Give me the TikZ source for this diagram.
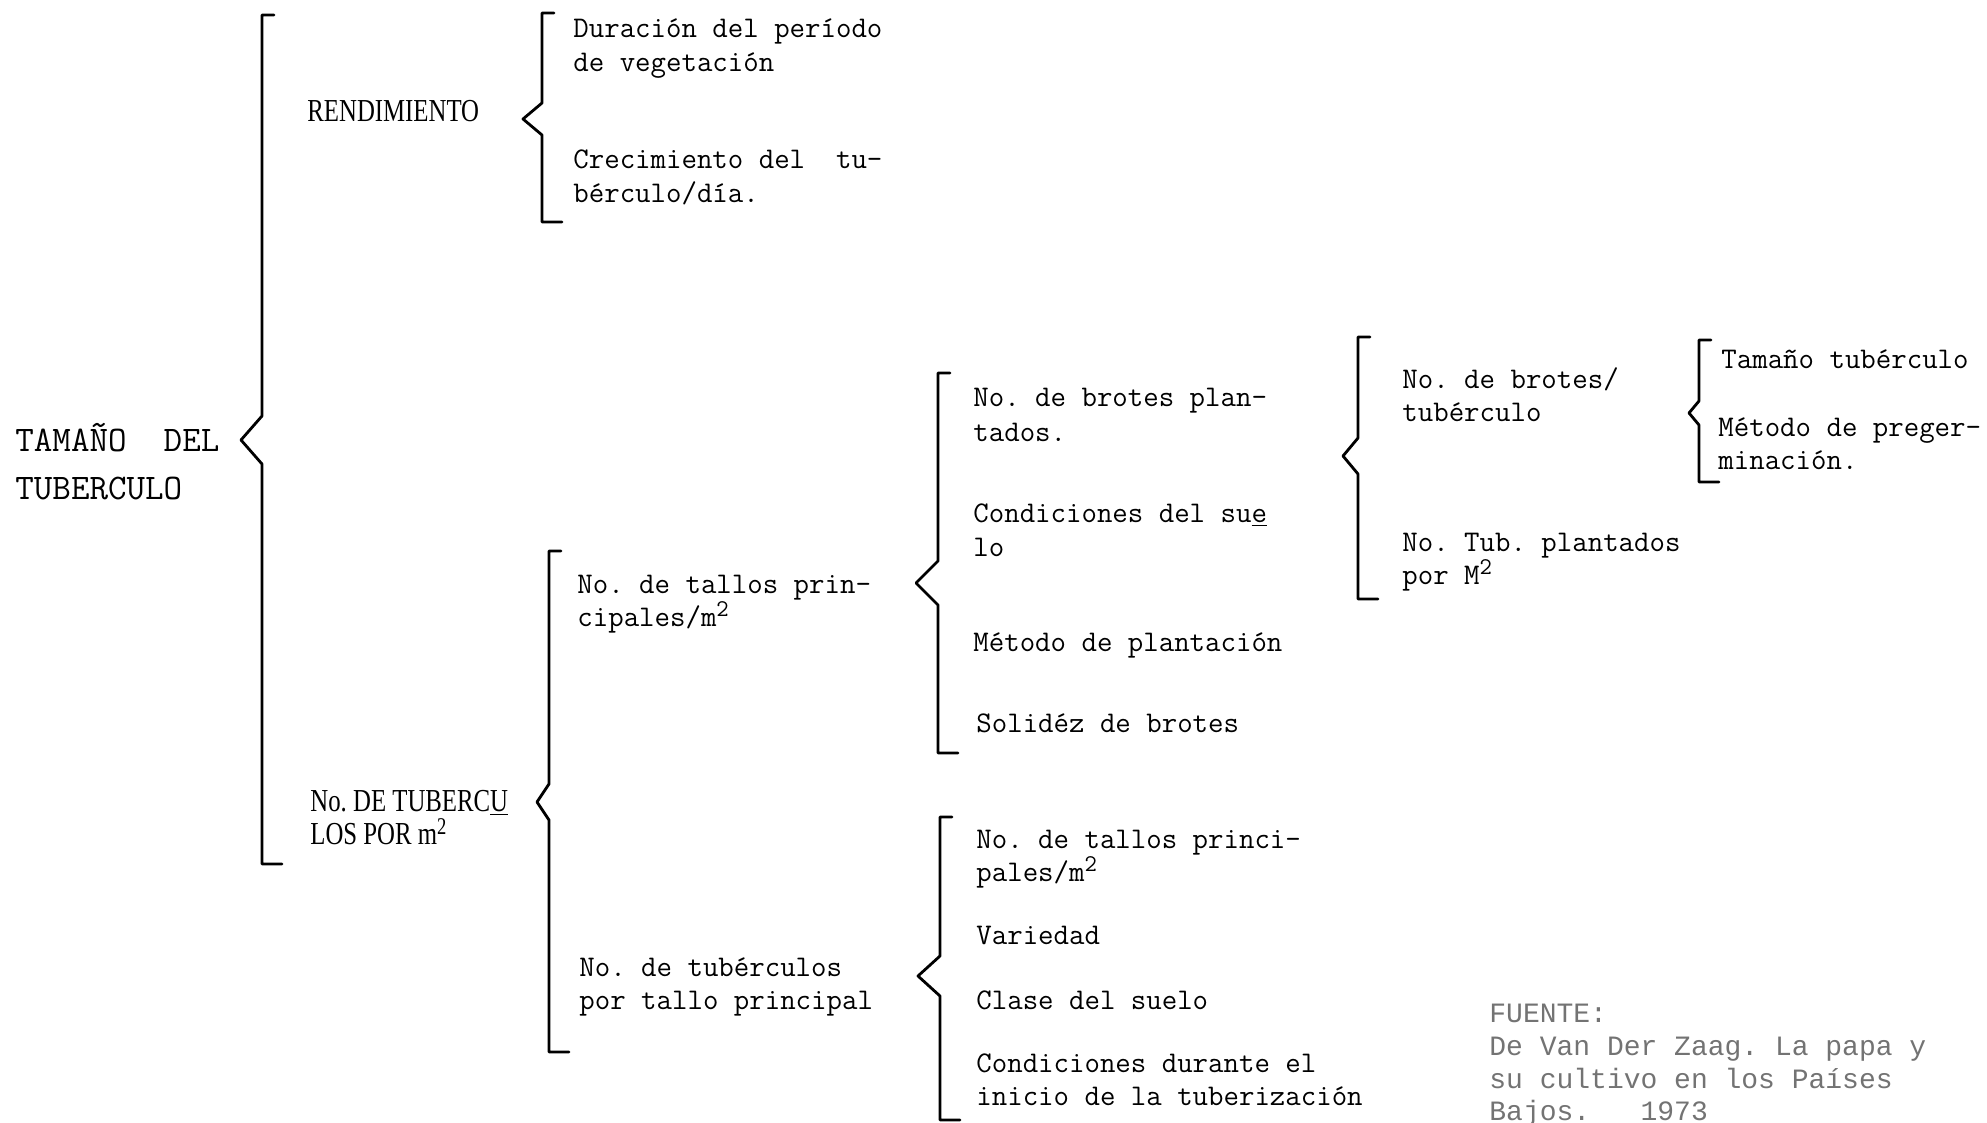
\documentclass[tikz,border=0pt]{standalone}
\usepackage{fontspec}
\newfontfamily\condfont[FakeStretch=0.775]{Liberation Serif}
\newfontfamily\courfont{Liberation Mono}
\newcommand\supii[1][5pt]{\raisebox{#1}{\fontsize{12}{12}\selectfont 2}}
\newcommand\brkt[6]{\draw[brk] (#1+12,#2) -- (#1,#2) -- (#1,#3-#6) -- (#1-#5,#3) -- (#1,#3+#6) -- (#1,#4) -- (#1+20,#4);}
\frenchspacing
\begin{document}
\begin{tikzpicture}[x=0.5pt,y=-0.5pt,
  txt/.style={anchor=base west,inner sep=0pt,font=\fontsize{15}{17}\selectfont\ttfamily\frenchspacing},
  tam/.style={anchor=base west,inner sep=0pt,font=\fontsize{18}{20}\selectfont\ttfamily},
  cond/.style={anchor=base west,inner sep=0pt,font=\fontsize{16}{18}\selectfont\condfont\frenchspacing},
  src/.style={anchor=base west,inner sep=0pt,text=black!55,font=\fontsize{14}{16}\selectfont\courfont\frenchspacing},
  brk/.style={line width=1.4pt,line join=round,line cap=round}]
\useasboundingbox (0,0) rectangle (1987,1123);
% level 0
\node[tam] (t1) at (15,451) {TAMAÑO~~DEL};
\node[tam] (t2) at (15,499) {TUBERCULO};
% level 1
\node[cond] (r1) at (307,122) {RENDIMIENTO};
\node[cond] (n1) at (310,811) {No. DE TUBERC\underline{U}};
\node[cond] (n2) at (310,844) {LOS POR m\supii};
% level 2
\node[txt] (d1) at (573,38) {Duración del período};
\node[txt] (d2) at (573,72) {de vegetación};
\node[txt] (c1) at (573,169) {Crecimiento del~~tu-};
\node[txt] (c2) at (573,203) {bérculo/día.};
\node[txt] (p1) at (577,593) {No. de tallos prin-};
\node[txt] (p2) at (577,626) {cipales/m\supii};
\node[txt] (q1) at (579,976) {No. de tubérculos};
\node[txt] (q2) at (579,1009) {por tallo principal};
% level 3
\node[txt] (b1) at (973,407) {No. de brotes plan-};
\node[txt] (b2) at (973,441) {tados.};
\node[txt] (s1) at (973,522) {Condiciones del su\underline{e}};
\node[txt] (s2) at (973,556) {lo};
\node[txt] (m1) at (973,651) {Método de plantación};
\node[txt] (so) at (976,732) {Solidéz de brotes};
\node[txt] (k1) at (976,848) {No. de tallos princi-};
\node[txt] (k2) at (976,881) {pales/m\supii};
\node[txt] (va) at (976,944) {Variedad};
\node[txt] (cl) at (976,1009) {Clase del suelo};
\node[txt] (cd1) at (976,1072) {Condiciones durante el};
\node[txt] (cd2) at (976,1105) {inicio de la tuberización};
% level 4
\node[txt] (bt1) at (1402,388) {No. de brotes/};
\node[txt] (bt2) at (1402,421) {tubérculo};
\node[txt] (tp1) at (1402,551) {No. Tub. plantados};
\node[txt] (tp2) at (1402,584) {por M\supii};
% level 5
\node[txt] (tt) at (1721,369) {Tamaño tubérculo};
\node[txt] (mp1) at (1718,436) {Método de preger-};
\node[txt] (mp2) at (1718,469) {minación.};
% source
\node[src] (f1) at (1489,1022) {FUENTE:};
\node[src] (f2) at (1489,1055) {De Van Der Zaag. La papa y};
\node[src] (f3) at (1489,1088) {su cultivo en los Países};
\node[src] (f4) at (1489,1120) {Bajos.~~~1973};
% brackets
\brkt{262}{15}{440}{864}{21}{24}
\brkt{542}{13}{119}{222}{19}{16}
\brkt{549}{551}{802}{1052}{12}{18}
\brkt{938}{373}{583}{753}{22}{22}
\brkt{940}{817}{976}{1120}{22}{20}
\brkt{1358}{337}{456}{599}{15}{18}
\brkt{1699}{340}{413}{482}{10}{12}
\end{tikzpicture}
\end{document}
